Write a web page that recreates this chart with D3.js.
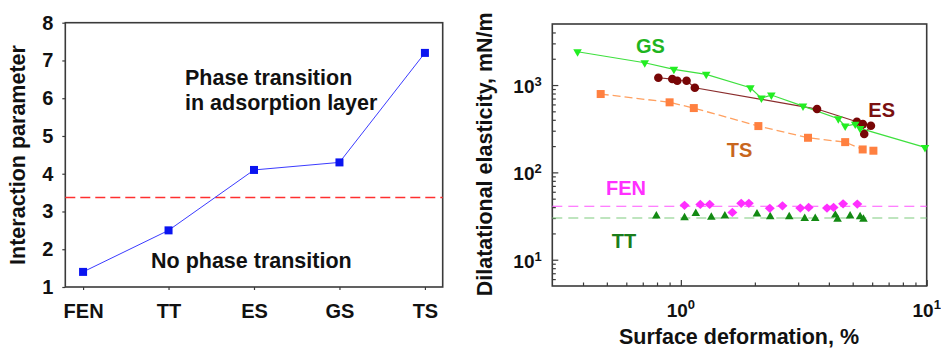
<!DOCTYPE html>
<html><head><meta charset="utf-8">
<script src="https://cdn.jsdelivr.net/npm/d3@7"></script>
<style>
body{margin:0;background:#fff;}
svg text{font-family:"Liberation Sans",Arial,sans-serif;font-weight:bold;}
</style>
</head><body><svg id="c" width="941" height="350"></svg>
<script>
// ---------- Left panel data ----------
const categories = ["FEN","TT","ES","GS","TS"];
const interactionValues = [1.4,2.5,4.1,4.3,7.2];
const transitionThreshold = 3.37;
const leftYTicks = [1,2,3,4,5,6,7,8];

// ---------- Right panel data ----------
const gsX = [0.38,0.713,0.937,1.268,1.918,2.126,2.334,3.14,4.37,4.66,5.12,5.36,9.84];
const gsY = [2404,1800,1513,1326,931,709,768,574,411,339,357,319,193];
const esX = [0.81,0.923,0.967,1.055,1.14,3.58,5.2,5.5,5.57,5.93];
const esY = [1212,1171,1120,1120,931,531,380,357,275,342];
const tsX = [0.472,0.90,1.129,2.067,3.29,4.66,5.49,6.07];
const tsY = [789,634,545,339,249,222,183,177];
const fenX = [1.035,1.20,1.31,1.62,1.76,1.89,2.30,2.59,3.06,3.31,3.93,4.18,4.57,5.22];
const fenY = [41.9,43,43,34.8,44.2,44.2,38.8,41.4,39,39.7,39,39.7,43.6,43.3];
const ttX = [0.795,1.035,1.15,1.33,1.51,2.04,2.31,2.76,3.19,3.52,4.25,4.34,4.88,5.36,5.53];
const ttY = [31.6,30.2,33.9,30.6,31.6,33.3,31,31,29.7,29.7,32.4,29.1,31.6,31,29.1];
const fenLevel = 41;
const ttLevel = 30;
const rightXMajor = [1,10];
const rightYMajor = [10,100,1000];
const xDomain = [0.3,10];
const yDomain = [5,5000];

const svg = d3.select("#c");
const frameColor = "#3a3a3a";
const textColor = "#111";

// ================= LEFT PANEL =================
const L = {x0:65.3, x1:442.7, y0:22.7, y1:287};
const xL = d3.scalePoint().domain(categories).range([L.x0,L.x1]).padding(0.208);
const yL = d3.scaleLinear().domain([1,8]).range([L.y1,L.y0]);

const gL = svg.append("g");
const axL = gL.append("g").attr("transform",`translate(${L.x0},0)`)
  .call(d3.axisLeft(yL).tickValues(leftYTicks).tickFormat(d3.format("d")).tickSize(3).tickSizeOuter(0).tickPadding(9));
const axB = gL.append("g").attr("transform",`translate(0,${L.y1})`)
  .call(d3.axisBottom(xL).tickSize(3).tickSizeOuter(0).tickPadding(14));
[axL,axB].forEach(a=>{
  a.select(".domain").remove();
  a.selectAll("line").attr("stroke",frameColor).attr("stroke-width",1.2);
  a.selectAll("text").style("font-size","20px").style("fill",textColor);
});
gL.append("rect").attr("x",L.x0).attr("y",L.y0).attr("width",L.x1-L.x0).attr("height",L.y1-L.y0)
  .attr("fill","none").attr("stroke",frameColor).attr("stroke-width",1.6);

gL.append("line").attr("x1",L.x0).attr("x2",L.x1)
  .attr("y1",yL(transitionThreshold)).attr("y2",yL(transitionThreshold))
  .attr("stroke","#ff3030").attr("stroke-width",1.5).attr("stroke-dasharray","10,5");

const leftData = categories.map((c,i)=>({c,v:interactionValues[i]}));
gL.append("path").datum(leftData)
  .attr("d",d3.line().x(d=>xL(d.c)).y(d=>yL(d.v)))
  .attr("fill","none").attr("stroke","#3b3bff").attr("stroke-width",1);
gL.selectAll("rect.pt").data(leftData).join("rect").attr("class","pt")
  .attr("x",d=>xL(d.c)-4).attr("y",d=>yL(d.v)-4).attr("width",8).attr("height",8)
  .attr("fill","#0a14f0");

function txt(g,x,y,s,size){ return g.append("text").attr("x",x).attr("y",y).style("font-size",size).style("fill",textColor).text(s); }
txt(gL,185,85,"Phase transition","21.5px");
txt(gL,185,110,"in adsorption layer","21.5px");
txt(gL,151,268,"No phase transition","21.5px");
gL.append("text").attr("transform",`translate(25,155) rotate(-90)`).attr("text-anchor","middle")
  .style("font-size","21.5px").style("fill",textColor).text("Interaction parameter");

// ================= RIGHT PANEL =================
const R = {x0:552.3, x1:926.7, y0:24, y1:286};
const xR = d3.scaleLog().domain(xDomain).range([R.x0,R.x1]);
const yR = d3.scaleLog().domain(yDomain).range([R.y1,R.y0]);
const gR = svg.append("g");

const xMinor = [0.4,0.5,0.6,0.7,0.8,0.9,2,3,4,5,6,7,8,9];
const yMinor = [6,7,8,9,20,30,40,50,60,70,80,90,200,300,400,500,600,700,800,900,2000,3000,4000];

function styleAxis(a){
  a.select(".domain").remove();
  a.selectAll("line").attr("stroke",frameColor).attr("stroke-width",1.2);
  a.selectAll("text").remove();
}
styleAxis(gR.append("g").attr("transform",`translate(0,${R.y1})`)
  .call(d3.axisBottom(xR).tickValues(xMinor).tickSize(-3.5).tickSizeOuter(0)));
styleAxis(gR.append("g").attr("transform",`translate(0,${R.y1})`)
  .call(d3.axisBottom(xR).tickValues(rightXMajor).tickSize(-6).tickSizeOuter(0)));
styleAxis(gR.append("g").attr("transform",`translate(${R.x0},0)`)
  .call(d3.axisLeft(yR).tickValues(yMinor).tickSize(-3.5).tickSizeOuter(0)));
styleAxis(gR.append("g").attr("transform",`translate(${R.x0},0)`)
  .call(d3.axisLeft(yR).tickValues(rightYMajor).tickSize(-6).tickSizeOuter(0)));

rightXMajor.forEach(v=>{
  const t = gR.append("text").attr("x",xR(v)).attr("y",316.7).attr("text-anchor","middle").style("font-size","19px").style("fill",textColor);
  t.append("tspan").text("10");
  t.append("tspan").attr("dy",-8).style("font-size","13px").text(String(Math.round(Math.log10(v))));
});
rightYMajor.forEach(v=>{
  const t = gR.append("text").attr("x",541.7).attr("y",yR(v)+8).attr("text-anchor","end").style("font-size","19px").style("fill",textColor);
  t.append("tspan").text("10");
  t.append("tspan").attr("dy",-7).style("font-size","13px").text(String(Math.round(Math.log10(v))));
});

gR.append("rect").attr("x",R.x0).attr("y",R.y0).attr("width",R.x1-R.x0).attr("height",R.y1-R.y0)
  .attr("fill","none").attr("stroke",frameColor).attr("stroke-width",1.6);

// reference dashed levels
gR.append("line").attr("x1",R.x0).attr("x2",R.x1).attr("y1",yR(fenLevel)).attr("y2",yR(fenLevel))
  .attr("stroke","#ff55ff").attr("stroke-width",1.1).attr("stroke-dasharray","10,6");
gR.append("line").attr("x1",R.x0).attr("x2",R.x1).attr("y1",yR(ttLevel)).attr("y2",yR(ttLevel))
  .attr("stroke","#7fcc7f").attr("stroke-width",1.1).attr("stroke-dasharray","10,6");

const zip = (xs,ys)=>xs.map((x,i)=>({x,y:ys[i]}));
const lineR = d3.line().x(d=>xR(d.x)).y(d=>yR(d.y));
const gs = zip(gsX,gsY), es = zip(esX,esY), ts = zip(tsX,tsY), fen = zip(fenX,fenY), tt = zip(ttX,ttY);

gR.append("path").datum(ts).attr("d",lineR).attr("fill","none").attr("stroke","#ffa060")
  .attr("stroke-width",1.3).attr("stroke-dasharray","8,4");
gR.append("path").datum(es).attr("d",lineR).attr("fill","none").attr("stroke","#8a2c2c").attr("stroke-width",1.2);
gR.append("path").datum(gs).attr("d",lineR).attr("fill","none").attr("stroke","#3ee03e").attr("stroke-width",1.2);

const tri = d3.symbol().type(d3.symbolTriangle).size(32)();
const diamond = "M-5,0L0,-4.6L5,0L0,4.6Z";

gR.selectAll("path.tt").data(tt).join("path").attr("class","tt")
  .attr("transform",d=>`translate(${xR(d.x)},${yR(d.y)})`).attr("d",tri).attr("fill","#138a13");
gR.selectAll("path.fen").data(fen).join("path").attr("class","fen")
  .attr("transform",d=>`translate(${xR(d.x)},${yR(d.y)})`).attr("d",diamond).attr("fill","#ff2eff");
gR.selectAll("rect.ts").data(ts).join("rect").attr("class","ts")
  .attr("x",d=>xR(d.x)-4).attr("y",d=>yR(d.y)-4).attr("width",8).attr("height",8).attr("fill","#ff8040");
gR.selectAll("circle.es").data(es).join("circle").attr("class","es")
  .attr("cx",d=>xR(d.x)).attr("cy",d=>yR(d.y)).attr("r",4.3).attr("fill","#780606");
gR.selectAll("path.gs").data(gs).join("path").attr("class","gs")
  .attr("transform",d=>`translate(${xR(d.x)},${yR(d.y)}) rotate(180)`).attr("d",tri).attr("fill","#22ee22");

const labels = [
  {t:"GS",x:636,y:53.3,c:"#1fb51f"},
  {t:"ES",x:868.3,y:116.7,c:"#7a1010"},
  {t:"TS",x:726.7,y:156.7,c:"#c8661e"},
  {t:"FEN",x:606,y:195,c:"#ff30ff"},
  {t:"TT",x:611.7,y:248.3,c:"#1a7d1a"}
];
labels.forEach(l=>gR.append("text").attr("x",l.x).attr("y",l.y).style("font-size","20px").style("fill",l.c).text(l.t));

gR.append("text").attr("x",739).attr("y",344).attr("text-anchor","middle").style("font-size","21.5px").style("fill",textColor).text("Surface deformation, %");
gR.append("text").attr("transform",`translate(491.5,154.3) rotate(-90)`).attr("text-anchor","middle")
  .style("font-size","21.5px").style("fill",textColor).text("Dilatational elasticity, mN/m");
</script>
</body></html>
